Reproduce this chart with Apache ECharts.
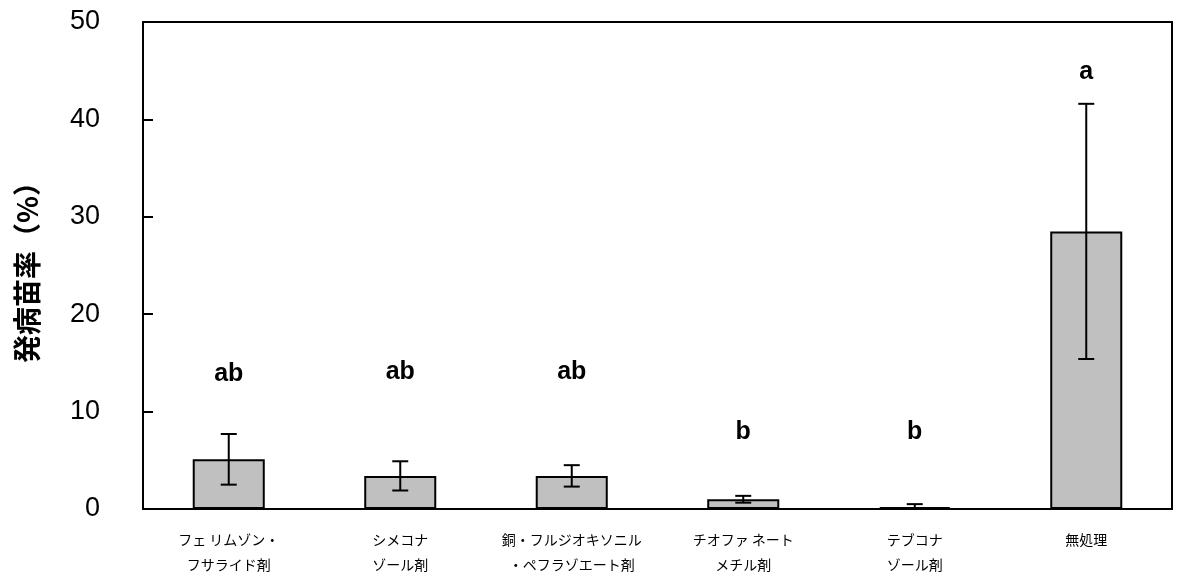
<!DOCTYPE html>
<html>
<head>
<meta charset="utf-8">
<script src="https://cdn.jsdelivr.net/npm/echarts@6/dist/echarts.min.js"></script>
<style>
  html, body { margin: 0; padding: 0; background: #fff; }
  #chart { width: 1189px; height: 574px; }
</style>
</head>
<body>
<div id="chart"></div>
<script>
// Treatments (x categories)
const categories = [
  'フェ リムゾン・\nフサライド剤',
  'シメコナ\nゾール剤',
  '銅・フルジオキソニル\n・ペフラゾエート剤',
  'チオファ ネート\nメチル剤',
  'テブコナ\nゾール剤',
  '無処理'
];
// Mean disease incidence (%)
const meanValues = [5.1, 3.4, 3.4, 1.0, 0.2, 28.5];
// Standard error (%)
const errorValues = [2.6, 1.5, 1.1, 0.35, 0.3, 13.1];
// Significance letters and the value level where each is printed
const letters = ['ab', 'ab', 'ab', 'b', 'b', 'a'];
const letterLevels = [13.9, 14.1, 14.1, 7.9, 7.9, 44.9];
// Y axis ticks
const yMin = 0, yMax = 50, yStep = 10;

const chart = echarts.init(document.getElementById('chart'));

const errorData = meanValues.map((v, i) => [i, Math.max(0, v - errorValues[i]), v + errorValues[i]]);
const letterData = letters.map((t, i) => [i, letterLevels[i], t]);

chart.setOption({
  animation: false,
  grid: {
    left: 143, right: 17, top: 22, bottom: 65,
    containLabel: false,
    outerBoundsMode: 'none',
    show: true, borderColor: '#000', borderWidth: 2
  },
  xAxis: {
    type: 'category',
    data: categories,
    axisLine: { lineStyle: { color: '#000', width: 2 } },
    axisTick: { inside: true, length: 5, lineStyle: { color: '#000', width: 2 } },
    axisLabel: {
      interval: 0, hideOverlap: false,
      color: '#000', fontSize: 14, lineHeight: 25, margin: 18,
      fontFamily: '"Noto Sans CJK JP", sans-serif'
    }
  },
  yAxis: {
    type: 'value',
    min: yMin, max: yMax, interval: yStep,
    name: '発病苗率（%）',
    nameLocation: 'middle',
    nameGap: 102,
    nameRotate: 90,
    nameTextStyle: {
      color: '#000', fontSize: 28, fontWeight: 'bold',
      fontFamily: '"Noto Sans CJK JP", sans-serif'
    },
    splitLine: { show: false },
    axisLine: { show: true, lineStyle: { color: '#000', width: 2 } },
    axisTick: { show: true, inside: true, length: 10, lineStyle: { color: '#000', width: 2 } },
    axisLabel: {
      color: '#000', fontSize: 27, margin: 43,
      fontFamily: '"Liberation Sans", Arial, sans-serif'
    }
  },
  series: [
    {
      type: 'bar',
      data: meanValues,
      barWidth: '42%',
      itemStyle: { color: '#c0c0c0', borderColor: '#000', borderWidth: 2 }
    },
    {
      type: 'custom',
      data: errorData,
      z: 10,
      renderItem: function (params, api) {
        const x = api.value(0);
        const lo = api.coord([x, api.value(1)]);
        const hi = api.coord([x, api.value(2)]);
        const half = 8;
        const style = { stroke: '#000', lineWidth: 2 };
        return {
          type: 'group',
          children: [
            { type: 'line', shape: { x1: lo[0], y1: lo[1], x2: hi[0], y2: hi[1] }, style },
            { type: 'line', shape: { x1: hi[0] - half, y1: hi[1], x2: hi[0] + half, y2: hi[1] }, style },
            { type: 'line', shape: { x1: lo[0] - half, y1: lo[1], x2: lo[0] + half, y2: lo[1] }, style }
          ]
        };
      }
    },
    {
      type: 'custom',
      data: letterData,
      z: 10,
      renderItem: function (params, api) {
        const p = api.coord([api.value(0), api.value(1)]);
        return {
          type: 'text',
          x: p[0], y: p[1],
          style: {
            text: letters[params.dataIndex],
            fill: '#000',
            font: 'bold 25px "Liberation Sans", Arial, sans-serif',
            align: 'center', verticalAlign: 'middle'
          }
        };
      }
    }
  ]
});
</script>
</body>
</html>
